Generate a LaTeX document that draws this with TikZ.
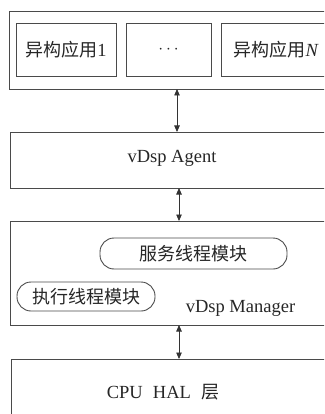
\documentclass[tikz,border=0pt]{standalone}
\usepackage{fontspec}
\setmainfont{Liberation Serif}
\newfontfamily\cjk{Noto Sans CJK SC}
\usetikzlibrary{arrows.meta}
\definecolor{edge}{HTML}{4A4A4A}
\tikzset{
  layer/.style={draw=edge, line width=0.9pt, inner sep=0pt},
  appbox/.style={draw=edge, line width=0.9pt, inner sep=0pt, minimum height=53pt},
  module/.style={draw=edge, line width=0.9pt, rounded corners=14pt, inner sep=0pt},
  label/.style={font=\fontsize{18.5}{21}\selectfont, text=black!85},
  cjklabel/.style={font=\fontsize{18}{21}\selectfont, text=black!85},
  biarrow/.style={draw=black!80, line width=0.8pt, {Triangle[length=6.5pt,width=5.5pt]}-{Triangle[length=6.5pt,width=5.5pt]}}
}
\begin{document}
\begin{tikzpicture}[x=1pt, y=-1pt]
  \useasboundingbox (0,0) rectangle (324,414);
  \clip (0,0) rectangle (324,414);

  % application layer
  \draw[layer] (9,11) rectangle (340,89);
  \node[appbox, minimum width=100pt, cjklabel] (app1) at (66,49.5) {{\cjk 异构应用}\fontsize{18.5}{21}\selectfont 1};
  \node[appbox, minimum width=85pt, label] (dots) at (168.5,49.5) {\textbf{$\cdots$}};
  \draw[layer] (221,23) rectangle (340,76);
  \node[cjklabel, anchor=west] (appN) at (230,49.5) {{\cjk 异构应用}\fontsize{18.5}{21}\selectfont\itshape N};

  % agent layer
  \draw[layer] (10,132) rectangle (340,188);
  \node[label] (agent) at (172,158) {vDsp Agent};

  % manager layer
  \draw[layer] (10,221) rectangle (340,325);
  \node[module, cjklabel, minimum width=187pt, minimum height=31pt] (serve) at (193.5,253.5) {\cjk 服务线程模块};
  \node[module, cjklabel, minimum width=138pt, minimum height=29pt] (exec) at (86,296.5) {\cjk 执行线程模块};
  \node[label] (mgr) at (240.5,308) {vDsp Manager};

  % hardware layer
  \draw[layer] (11,359) rectangle (340,430);
  \node[label] (hal) at (163,392) {CPU\hspace{0.55em}HAL\hspace{0.55em}{\cjk\fontsize{18}{21}\selectfont 层}};

  % links between layers
  \coordinate (l1a) at (177,89);  \coordinate (l1b) at (177,132);
  \coordinate (l2a) at (179,188); \coordinate (l2b) at (179,221);
  \coordinate (l3a) at (179,325); \coordinate (l3b) at (179,359);
  \draw[biarrow] (l1a) -- (l1b);
  \draw[biarrow] (l2a) -- (l2b);
  \draw[biarrow] (l3a) -- (l3b);
\end{tikzpicture}
\end{document}
